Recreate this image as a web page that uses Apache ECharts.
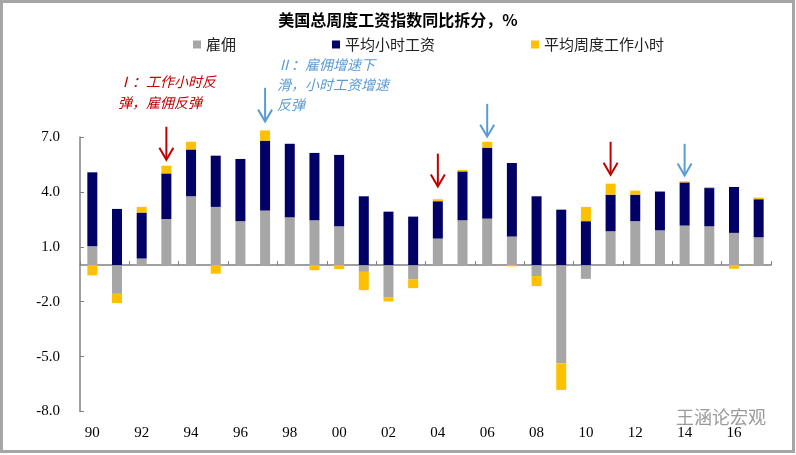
<!DOCTYPE html>
<html>
<head>
<meta charset="utf-8">
<script src="https://cdn.jsdelivr.net/npm/echarts@6/dist/echarts.min.js"></script>
<style>
html,body{margin:0;padding:0;background:#fff;}
#c{width:796px;height:455px;}
</style>
</head>
<body>
<div id="c"></div>
<script>
// ---- data ----
var years = ['1990','1991','1992','1993','1994','1995','1996','1997','1998','1999','2000','2001','2002','2003','2004','2005','2006','2007','2008','2009','2010','2011','2012','2013','2014','2015','2016','2017'];
var employment = [1.03,-1.57,0.36,2.52,3.76,3.18,2.40,2.98,2.61,2.45,2.12,-0.37,-1.75,-0.79,1.45,2.45,2.54,1.56,-0.60,-5.37,-0.75,1.85,2.40,1.90,2.16,2.12,1.76,1.52];
var hourlyWage = [4.04,3.07,2.51,2.49,2.56,2.80,3.40,3.82,4.02,3.68,3.90,3.76,2.92,2.65,2.04,2.67,3.88,4.02,3.76,3.03,2.40,2.00,1.45,2.12,2.36,2.09,2.51,2.08];
var weeklyHours = [-0.56,-0.51,0.31,0.42,0.42,-0.47,0,0.56,0,-0.28,-0.22,-1.00,-0.24,-0.47,0.11,0.08,0.32,-0.07,-0.55,-1.45,0.78,0.60,0.22,0,0.06,0.06,-0.20,0.09];
var seriesNames = ['雇佣','平均小时工资','平均周度工作小时'];
var yTicks = {min:-8, max:7, interval:3};
// arrows: [year, startValue, tipValue]
var redArrows = [['1993',7.56,5.76],['2004',6.09,4.29],['2011',6.74,4.94]];
var blueArrows = [['1997',9.69,7.84],['2006',8.81,7.02],['2014',6.63,4.89]];
var redNote = 'Ⅰ：工作小时反\n弹，雇佣反弹';
var blueNote = 'Ⅱ：雇佣增速下\n滑，小时工资增速\n反弹';

var RED = '#C00000', BLUE = '#5B9BD5';

var chart = echarts.init(document.getElementById('c'));
var serif = '"Liberation Serif","Times New Roman",serif';
var cjk = '"Noto Sans CJK SC","Noto Sans",sans-serif';
var barW = 10;
var baseGraphic = [
  {id:'frame', type:'rect', shape:{x:1.5, y:1.5, width:792, height:450}, style:{fill:'none', stroke:'#A6A6A6', lineWidth:3}, silent:true},
  {id:'redNote', type:'text', left:118, top:71, style:{text:redNote, fill:RED, font:'italic 14px "Noto Sans CJK SC"', lineHeight:21}},
  {id:'blueNote', type:'text', left:277, top:55, style:{text:blueNote, fill:BLUE, font:'italic 14px "Noto Sans CJK SC"', lineHeight:20}},
  {id:'wm', type:'text', left:676, top:408, style:{text:'王涵论宏观', fill:'#9a9a9a', font:'18px "Noto Sans CJK SC"'}}
];
chart.setOption({
  animation:false,
  title:{text:'美国总周度工资指数同比拆分，%', left:'center', top:7,
    textStyle:{fontFamily:cjk, fontSize:16, fontWeight:'bold', color:'#000'}},
  legend:{data:seriesNames, left:188, top:32, itemWidth:8, itemHeight:8, itemGap:96, icon:'rect',
    textStyle:{fontFamily:cjk, fontSize:15, color:'#222'}},
  grid:{left:80, right:25, top:137, bottom:43.5},
  xAxis:[{
    type:'category', data:years, position:'bottom',
    axisLine:{onZero:true, lineStyle:{color:'#808080', width:1.5}},
    axisTick:{show:true, inside:true, length:4, interval:1, lineStyle:{color:'#808080'}},
    axisLabel:{show:false}
  },{
    type:'category', data:years, position:'bottom',
    axisLine:{show:false, onZero:false}, axisTick:{show:false},
    axisLabel:{interval:1, margin:14, fontFamily:serif, fontSize:15, color:'#000',
      formatter:function(v){return v.slice(2);}}
  }],
  yAxis:{type:'value', min:yTicks.min, max:yTicks.max, interval:yTicks.interval,
    splitLine:{show:false},
    axisLine:{show:true, lineStyle:{color:'#808080', width:1.5}},
    axisTick:{show:true, inside:true, length:4, lineStyle:{color:'#808080'}},
    axisLabel:{margin:20, fontFamily:serif, fontSize:15, color:'#000',
      formatter:function(v){return v.toFixed(1);}}},
  series:[
    {name:seriesNames[0], type:'bar', stack:'t', data:employment, barWidth:barW, clip:false, itemStyle:{color:'#A6A6A6'}},
    {name:seriesNames[1], type:'bar', stack:'t', data:hourlyWage, barWidth:barW, clip:false, itemStyle:{color:'#000066'}},
    {name:seriesNames[2], type:'bar', stack:'t', data:weeklyHours, barWidth:barW, clip:false, itemStyle:{color:'#FFC000'}}
  ],
  graphic: baseGraphic
});

// arrows placed through the chart's own scales
function arrowElems(list, color, prefix){
  var out = [];
  list.forEach(function(a, i){
    var p0 = chart.convertToPixel({xAxisIndex:0, yAxisIndex:0}, [a[0], a[1]]);
    var p1 = chart.convertToPixel({xAxisIndex:0, yAxisIndex:0}, [a[0], a[2]]);
    var x = p0[0];
    out.push({id:prefix+'s'+i, type:'line', silent:true,
      shape:{x1:x, y1:p0[1], x2:x, y2:p1[1]-1}, style:{stroke:color, lineWidth:2}});
    out.push({id:prefix+'h'+i, type:'polyline', silent:true,
      shape:{points:[[x-7, p1[1]-12],[x, p1[1]],[x+7, p1[1]-12]]},
      style:{stroke:color, lineWidth:2, fill:'none'}});
  });
  return out;
}
chart.setOption({graphic: baseGraphic.concat(arrowElems(redArrows, RED, 'r'), arrowElems(blueArrows, BLUE, 'b'))});
</script>
</body>
</html>
